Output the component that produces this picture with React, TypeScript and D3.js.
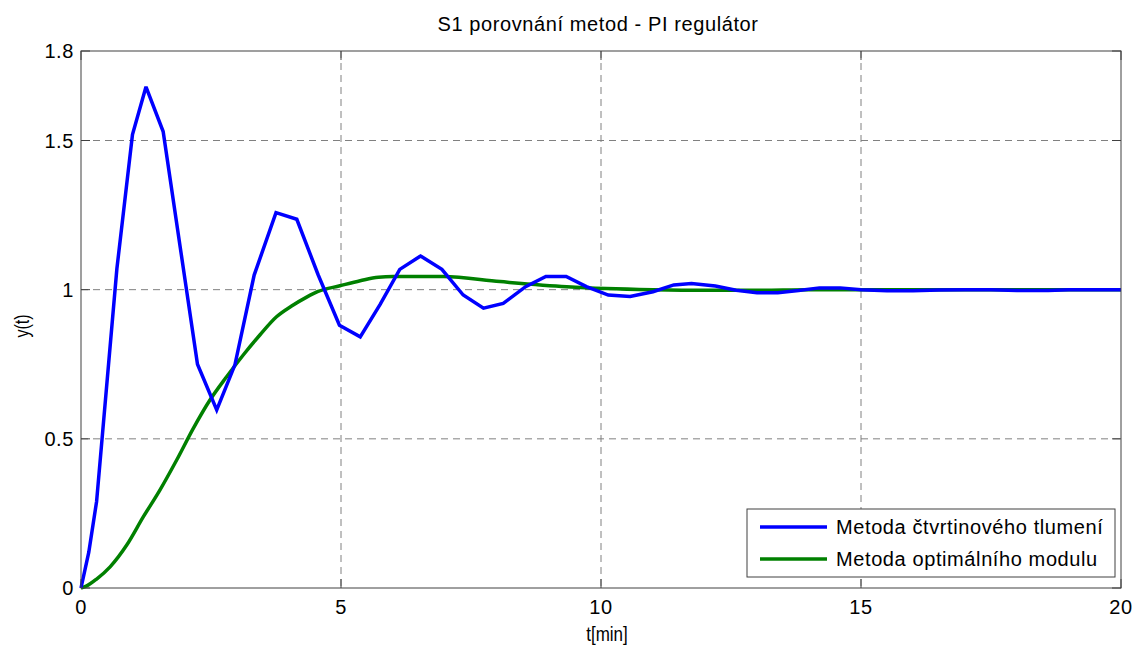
import React from "react";
import * as d3 from "d3";

const titleText = "S1 porovnání metod - PI regulátor";
const xLabel = "t[min]";
const yLabel = "y(t)";
const xTicks = [0, 5, 10, 15, 20];
const yTicks = [0, 0.5, 1, 1.5, 1.8];
const yTickLabels = ["0", "0.5", "1", "1.5", "1.8"];
const seriesNames = ["Metoda čtvrtinového tlumení", "Metoda optimálního modulu"];
const seriesColors = ["#0000ff", "#008000"];

const blueT = [0, 0.15, 0.3, 0.69, 0.99, 1.25, 1.58, 1.91, 2.24, 2.61, 2.96, 3.33, 3.75, 4.15, 4.56, 4.97, 5.37, 5.75, 6.13, 6.53, 6.94, 7.35, 7.74, 8.12, 8.55, 8.94, 9.33, 9.72, 10.14, 10.56, 11.0, 11.4, 11.74, 12.2, 12.6, 13.0, 13.4, 13.8, 14.2, 14.6, 15.0, 15.5, 16.0, 16.5, 17.0, 17.5, 18.0, 18.6, 19.0, 20.0];
const blueY = [0, 0.12, 0.29, 1.07, 1.52, 1.68, 1.53, 1.14, 0.75, 0.597, 0.748, 1.049, 1.258, 1.236, 1.05, 0.881, 0.842, 0.95, 1.068, 1.113, 1.068, 0.982, 0.938, 0.954, 1.01, 1.044, 1.044, 1.01, 0.982, 0.977, 0.993, 1.016, 1.021, 1.012, 0.998, 0.99, 0.99, 0.997, 1.006, 1.006, 1.0, 0.996, 0.996, 0.999, 1.0, 1.0, 0.997, 0.997, 1.0, 1.0];

const greenT = [0, 0.11, 0.3, 0.56, 0.88, 1.2, 1.52, 1.84, 2.16, 2.48, 2.8, 3.12, 3.44, 3.76, 4.05, 4.34, 4.56, 4.98, 5.37, 5.72, 6.0, 6.97, 8.06, 9.34, 10.1, 11, 12, 13, 14, 20];
const greenY = [0, 0.007, 0.03, 0.071, 0.144, 0.239, 0.329, 0.429, 0.535, 0.63, 0.708, 0.781, 0.848, 0.909, 0.945, 0.975, 0.994, 1.013, 1.03, 1.042, 1.044, 1.044, 1.027, 1.01, 1.004, 1.0, 0.998, 0.998, 1.0, 1.0];

const W = 1139;
const H = 649;
const M = { left: 81, right: 1121, top: 51, bottom: 588 };
const FONT = "'Liberation Sans', Arial, Helvetica, sans-serif";

export default function App() {
  const x = d3.scaleLinear().domain([0, 20]).range([M.left, M.right]);
  const y = d3.scaleLinear().domain([0, 1.8]).range([M.bottom, M.top]);

  const blue = blueT.map((t, i) => [t, blueY[i]] as [number, number]);
  const green = greenT.map((t, i) => [t, greenY[i]] as [number, number]);

  const lineLin = d3.line<[number, number]>().x((d) => x(d[0])).y((d) => y(d[1]));
  const lineSmooth = d3
    .line<[number, number]>()
    .x((d) => x(d[0]))
    .y((d) => y(d[1]))
    .curve(d3.curveMonotoneX);

  const tickLen = 9;
  const lg = { x0: 747, y0: 509, x1: 1115, y1: 577 };

  return (
    <svg
      width={W}
      height={H}
      style={{ position: "absolute", left: 0, top: 0, background: "#fff" }}
      fontFamily={FONT}
    >
      <rect x={0} y={0} width={W} height={H} fill="#fff" />
      {/* grid */}
      {xTicks
        .filter((t) => t > 0 && t < 20)
        .map((t) => (
          <line key={"gx" + t} x1={x(t)} x2={x(t)} y1={M.top} y2={M.bottom} stroke="#808080" strokeWidth={1} strokeDasharray="7,5" />
        ))}
      {yTicks
        .filter((t) => t > 0 && t < 1.8)
        .map((t) => (
          <line key={"gy" + t} x1={M.left} x2={M.right} y1={y(t)} y2={y(t)} stroke="#808080" strokeWidth={1} strokeDasharray="7,5" />
        ))}
      {/* ticks */}
      {xTicks.map((t) => (
        <g key={"tx" + t}>
          <line x1={x(t)} x2={x(t)} y1={M.bottom} y2={M.bottom - tickLen} stroke="#404040" />
          <line x1={x(t)} x2={x(t)} y1={M.top} y2={M.top + tickLen} stroke="#404040" />
          <text x={x(t)} y={614} fontSize={20} letterSpacing={0.6} textAnchor="middle" fill="#000">
            {t}
          </text>
        </g>
      ))}
      {yTicks.map((t, i) => (
        <g key={"ty" + t}>
          <line x1={M.left} x2={M.left + tickLen} y1={y(t)} y2={y(t)} stroke="#404040" />
          <line x1={M.right} x2={M.right - tickLen} y1={y(t)} y2={y(t)} stroke="#404040" />
          <text x={74} y={y(t) + 7} fontSize={20} letterSpacing={0.6} textAnchor="end" fill="#000">
            {yTickLabels[i]}
          </text>
        </g>
      ))}
      {/* series */}
      <path d={lineSmooth(green) || ""} fill="none" stroke={seriesColors[1]} strokeWidth={3.5} strokeLinejoin="round" />
      <path d={lineLin(blue) || ""} fill="none" stroke={seriesColors[0]} strokeWidth={3.5} strokeLinejoin="miter" strokeMiterlimit={3} />
      {/* frame */}
      <rect x={M.left} y={M.top} width={M.right - M.left} height={M.bottom - M.top} fill="none" stroke="#404040" strokeWidth={1} />
      {/* title and labels */}
      <text x={598} y={31} fontSize={20} letterSpacing={0.6} textAnchor="middle" fill="#000">
        {titleText}
      </text>
      <text transform="translate(607, 641) scale(0.85, 1)" fontSize={20} textAnchor="middle" fill="#000">
        {xLabel}
      </text>
      <text transform="translate(29, 326) rotate(-90) scale(0.8, 1)" fontSize={20} textAnchor="middle" fill="#000">
        {yLabel}
      </text>
      {/* legend */}
      <rect x={lg.x0} y={lg.y0} width={lg.x1 - lg.x0} height={lg.y1 - lg.y0} fill="#fff" stroke="#404040" strokeWidth={1} />
      {seriesNames.map((n, i) => {
        const yy = i === 0 ? 527 : 559;
        return (
          <g key={n}>
            <line x1={760} x2={827} y1={yy} y2={yy} stroke={seriesColors[i]} strokeWidth={3.5} />
            <text x={836} y={yy + 7} fontSize={20} letterSpacing={0.6} fill="#000">
              {n}
            </text>
          </g>
        );
      })}
    </svg>
  );
}
